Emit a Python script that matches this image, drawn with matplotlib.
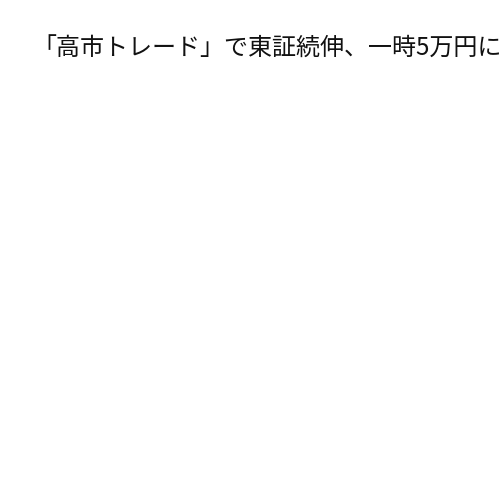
import matplotlib
matplotlib.use("Agg")
import matplotlib.pyplot as plt

title_text = "「高市トレード」で東証続伸、一時5万円に"

plt.rcParams['font.family'] = ['Noto Sans CJK JP', 'DejaVu Sans']
fig = plt.figure(figsize=(5, 5), dpi=100)
fig.patch.set_facecolor('white')
fig.text(0.064, 1 - 49 / 500, title_text, fontsize=17.3, ha='left', va='center', color='#111111')
fig.savefig("out.png", dpi=100, facecolor='white')
